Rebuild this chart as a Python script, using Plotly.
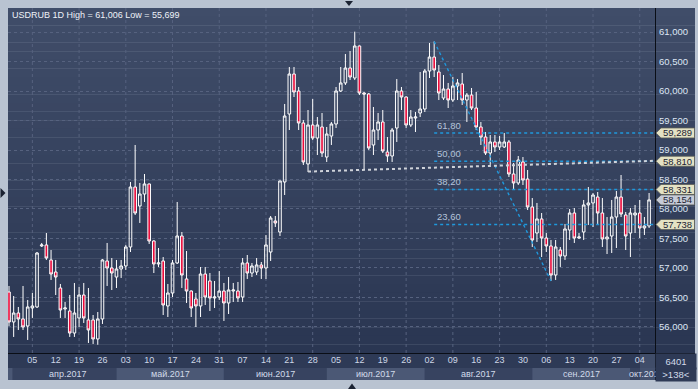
import plotly.graph_objects as go
import pandas as pd

# ---------------- data ----------------
dates = pd.bdate_range("2017-03-29", "2017-10-06")  # 138 daily bars

opens = [56.593, 56.085, 56.237, 56.136, 56.017, 56.322, 56.339, 57.373, 57.390, 57.136,
         56.932, 56.661, 56.305, 56.271, 55.898, 56.153, 56.542, 56.119, 56.119, 55.797,
         56.136, 57.119, 57.000, 56.847, 56.983, 57.034, 57.356, 58.373, 58.051, 58.254,
         58.424, 57.458, 57.068, 57.119, 56.356, 56.576, 57.085, 57.542, 56.814, 56.610,
         56.475, 56.356, 56.898, 56.780, 56.492, 56.508, 56.610, 56.407, 56.610, 56.610,
         56.508, 57.085, 56.915, 56.932, 57.051, 57.000, 57.271, 57.797, 57.610, 58.458,
         59.610, 60.288, 60.000, 59.458, 58.763, 59.424, 59.203, 59.390, 58.881, 59.237,
         59.441, 60.000, 60.136, 60.390, 60.220, 60.763, 59.966, 59.949, 59.085, 59.339,
         59.475, 58.966, 58.898, 59.373, 60.000, 59.898, 59.424, 59.542, 59.627, 59.695,
         60.339, 60.576, 60.322, 59.881, 60.034, 59.847, 60.085, 60.119, 59.847, 59.932,
         59.712, 59.390, 59.220, 58.949, 59.136, 59.051, 59.051, 59.136, 58.593, 58.441,
         58.797, 58.508, 58.034, 57.593, 57.831, 57.508, 57.373, 56.881, 57.305, 57.203,
         57.644, 57.932, 57.508, 57.610, 58.068, 58.102, 58.203, 57.932, 57.492, 57.542,
         57.864, 58.203, 57.898, 57.593, 57.898, 57.932, 57.678, 57.712]

highs = [56.695, 56.525, 56.339, 56.695, 56.458, 56.576, 57.271, 57.424, 57.593, 57.305,
         57.136, 56.729, 56.424, 56.542, 56.746, 56.678, 56.746, 56.661, 56.203, 56.254,
         57.153, 57.424, 57.169, 57.136, 57.136, 57.390, 58.458, 59.085, 58.441, 58.593,
         58.430, 57.470, 57.339, 57.186, 56.729, 57.136, 58.119, 57.610, 57.288, 56.620,
         56.576, 57.017, 57.017, 56.915, 56.780, 56.949, 56.746, 56.847, 56.746, 56.763,
         57.169, 57.220, 57.085, 57.169, 57.102, 57.559, 57.881, 57.881, 58.480, 59.780,
         60.407, 60.407, 60.068, 59.508, 59.678, 59.864, 59.559, 59.627, 59.390, 59.475,
         60.068, 60.407, 60.627, 60.678, 61.006, 60.770, 59.983, 59.966, 59.729, 59.627,
         59.678, 59.220, 59.373, 60.203, 60.068, 59.910, 59.678, 59.644, 60.322, 60.373,
         60.814, 60.840, 60.441, 60.271, 60.136, 60.237, 60.203, 60.305, 59.966, 60.051,
         59.983, 59.475, 59.305, 59.254, 59.254, 59.237, 59.288, 59.169, 58.780, 58.898,
         58.881, 58.661, 58.186, 58.102, 57.932, 57.593, 57.475, 57.475, 57.356, 57.746,
         58.000, 58.017, 57.593, 58.153, 58.373, 58.271, 58.288, 58.186, 57.864, 58.153,
         58.305, 58.576, 57.949, 58.017, 58.068, 58.153, 57.864, 58.271]

lows = [56.017, 55.831, 55.949, 55.949, 55.780, 56.153, 56.322, 57.356, 57.136, 56.797,
        56.542, 56.153, 56.153, 55.831, 55.831, 56.000, 56.068, 55.729, 55.712, 55.699,
        56.051, 56.695, 56.627, 56.661, 56.831, 56.966, 57.271, 57.898, 57.763, 58.119,
        57.407, 56.915, 57.017, 56.203, 56.169, 56.508, 57.068, 56.661, 56.407, 56.169,
        56.000, 56.169, 56.373, 56.271, 56.322, 56.458, 56.102, 56.220, 56.424, 56.424,
        56.424, 56.814, 56.847, 56.881, 56.814, 56.814, 57.119, 57.695, 57.542, 58.237,
        59.339, 59.898, 59.339, 58.746, 58.627, 59.169, 58.915, 58.881, 58.797, 59.085,
        59.373, 59.983, 60.102, 60.186, 60.186, 59.932, 58.661, 59.000, 58.915, 59.169,
        58.949, 58.797, 58.797, 59.136, 59.678, 59.373, 59.390, 59.305, 59.559, 59.644,
        60.220, 60.237, 59.847, 59.847, 59.712, 59.814, 59.847, 59.763, 59.475, 59.678,
        59.339, 59.085, 58.915, 58.746, 58.966, 59.000, 59.034, 58.542, 58.322, 58.407,
        58.407, 57.983, 57.356, 57.441, 57.186, 57.271, 56.780, 56.797, 57.017, 57.136,
        57.475, 57.424, 57.492, 57.475, 57.729, 57.695, 57.729, 57.356, 57.237, 57.254,
        57.339, 57.864, 57.305, 57.186, 57.593, 57.508, 57.559, 57.678]

closes = [56.085, 56.237, 56.136, 56.000, 56.339, 56.356, 57.254, 57.390, 57.169, 56.898,
          56.847, 56.288, 56.322, 55.898, 56.237, 56.542, 56.153, 55.949, 55.797, 56.136,
          57.136, 57.000, 56.915, 56.983, 57.034, 57.356, 58.373, 57.932, 58.254, 58.424,
          57.458, 57.068, 57.085, 56.373, 56.576, 57.085, 57.542, 56.881, 56.610, 56.322,
          56.356, 56.898, 56.508, 56.492, 56.508, 56.610, 56.407, 56.627, 56.627, 56.492,
          57.085, 56.915, 57.034, 57.051, 57.000, 57.390, 57.847, 57.763, 58.475, 59.576,
          60.288, 59.983, 59.458, 58.797, 59.424, 59.203, 59.424, 58.949, 59.271, 59.441,
          60.000, 60.136, 60.390, 60.237, 60.763, 59.966, 59.949, 59.034, 59.339, 59.475,
          58.983, 58.898, 59.339, 60.000, 59.898, 59.424, 59.559, 59.559, 59.695, 60.339,
          60.576, 60.356, 59.966, 60.034, 59.847, 60.085, 60.136, 59.847, 59.932, 59.712,
          59.390, 59.220, 58.949, 59.136, 59.051, 59.136, 59.136, 58.593, 58.441, 58.831,
          58.492, 58.034, 57.475, 57.831, 57.508, 57.373, 56.881, 57.356, 57.203, 57.661,
          57.932, 57.508, 57.525, 58.068, 58.102, 58.237, 57.932, 57.492, 57.525, 57.864,
          58.203, 57.915, 57.542, 57.932, 57.932, 57.678, 57.712, 58.154]

# Fibonacci retracement drawn on the Aug high -> Sep low swing
swing_high_idx, swing_high = 91, 60.840
swing_low_idx, swing_low = 116, 56.7798
fib_ratios = [61.8, 50.0, 38.2, 23.6]

# white dotted trend line
trend_idx = [64, 138.6]
trend_val = [58.634, 58.818]

y_ticks = [56.0, 56.5, 57.0, 57.5, 58.0, 58.5, 59.0, 59.5, 60.0, 60.5, 61.0]
month_names = {3: "мар", 4: "апр", 5: "май", 6: "июн", 7: "июл", 8: "авг", 9: "сен", 10: "окт"}
bar_count_text = "6401"

idx = list(range(len(dates)))

# ---------------- geometry helpers (decoration only) ----------------
W, H = 698, 389
PL, PT, PR, PB = 8, 8, 656, 353
PW, PH = PR - PL, PB - PT
X_RANGE = [-0.214, 138.48]
Y_RANGE = [55.559, 61.407]


def pxx(x):
    return (x - PL) / PW


def pxy(y):
    return (PB - y) / PH


FONT = "Liberation Sans, Arial, sans-serif"
shapes = []
annotations = []

# gradient background (plot area + right price panel)
top_c = (64, 77, 105)
bot_c = (42, 54, 82)
N = 40
for k in range(N):
    t = (k + 0.5) / N
    c = tuple(int(round(top_c[j] + (bot_c[j] - top_c[j]) * t)) for j in range(3))
    shapes.append(dict(type="rect", xref="paper", yref="paper",
                       x0=pxx(PL), x1=pxx(695), y0=1 - k / N, y1=1 - (k + 1) / N - 0.001,
                       fillcolor="rgb(%d,%d,%d)" % c, line=dict(width=0), layer="below"))

# axis row background
shapes.append(dict(type="rect", xref="paper", yref="paper", x0=pxx(PL), x1=pxx(695),
                   y0=pxy(380), y1=pxy(PB), fillcolor="#2e3a56", line=dict(width=0), layer="below"))

# month bands
month_starts = []
prev = None
for i, d in enumerate(dates):
    if d.month != prev:
        month_starts.append((i, d))
        prev = d.month
band_edges = [X_RANGE[0]] + [0.8 if k == 1 else s[0] for k, s in enumerate(month_starts) if k > 0] + [X_RANGE[1]]
for k, (i0, d) in enumerate(month_starts):
    x0 = band_edges[k]
    x1 = band_edges[k + 1]
    light = (d.month % 2 == 1)
    shapes.append(dict(type="rect", xref="x", yref="paper", x0=x0, x1=x1,
                       y0=pxy(380), y1=pxy(368),
                       fillcolor="#4b5875" if light else "#374360", line=dict(width=0), layer="below"))
    if d.month == 10:
        annotations.append(dict(x=x0 - 0.7, y=pxy(374), xref="x", yref="paper",
                                text="%s.%d" % (month_names[d.month], d.year), showarrow=False,
                                font=dict(family=FONT, size=9, color="#d2dbea"),
                                xanchor="left", yanchor="middle"))
    elif d.month != 3:
        annotations.append(dict(x=(x0 + x1) / 2 + (0.6 if d.month == 4 else 0), y=pxy(374), xref="x", yref="paper",
                                text="%s.%d" % (month_names[d.month], d.year), showarrow=False,
                                font=dict(family=FONT, size=9, color="#d2dbea"),
                                xanchor="center", yanchor="middle"))

# cursor highlight box at last week label
shapes.append(dict(type="rect", xref="paper", yref="paper", x0=pxx(640), x1=pxx(655),
                   y0=pxy(380), y1=pxy(354), fillcolor="rgba(80,92,122,0.55)",
                   line=dict(width=0), layer="below"))

# vertical grid lines (every second week label)
wed_idx = [i for i, d in enumerate(dates) if d.weekday() == 2 and i > 0]
for gi in wed_idx[::2]:
    shapes.append(dict(type="line", xref="x", yref="paper", x0=gi, x1=gi, y0=0, y1=1,
                       line=dict(color="#56627f", width=1, dash="3px,3px"), layer="below"))

# separators
shapes.append(dict(type="line", xref="paper", yref="paper", x0=pxx(PL), x1=pxx(695),
                   y0=pxy(353.5), y1=pxy(353.5), line=dict(color="#0a0e16", width=1), layer="above"))
shapes.append(dict(type="line", xref="paper", yref="paper", x0=pxx(655.5), x1=pxx(655.5),
                   y0=pxy(PT), y1=pxy(380), line=dict(color="#0a0e16", width=1), layer="above"))
shapes.append(dict(type="line", xref="paper", yref="paper", x0=pxx(662), x1=pxx(689),
                   y0=pxy(368), y1=pxy(368), line=dict(color="#707c96", width=1), layer="above"))

# frame triangles
tri = "#1b2232"
for pts in ([(345, 1), (353, 1), (349, 6)], [(348, 389), (356, 389), (352, 383.5)],
            [(0.5, 188), (0.5, 198), (5.5, 193)]):
    path = "M %f,%f L %f,%f L %f,%f Z" % (pxx(pts[0][0]), pxy(pts[0][1]), pxx(pts[1][0]), pxy(pts[1][1]),
                                          pxx(pts[2][0]), pxy(pts[2][1]))
    shapes.append(dict(type="path", xref="paper", yref="paper", path=path,
                       fillcolor=tri, line=dict(width=0), layer="above"))

# ---------------- traces ----------------
fig = go.Figure()
fig.add_trace(go.Candlestick(
    x=idx, open=opens, high=highs, low=lows, close=closes,
    increasing=dict(line=dict(color="#ffffff", width=1), fillcolor="rgba(0,0,0,0)"),
    decreasing=dict(line=dict(color="#ffffff", width=1), fillcolor="#ea0a3a"),
    whiskerwidth=0, hoverinfo="skip", showlegend=False))

fib_levels = [swing_low + r / 100.0 * (swing_high - swing_low) for r in fib_ratios]
fib_col = "#1f98dc"
for r, lv in zip(fib_ratios, fib_levels):
    fig.add_trace(go.Scatter(x=[swing_high_idx, 140], y=[lv, lv], mode="lines",
                             line=dict(color=fib_col, width=1.6, dash="dot"),
                             hoverinfo="skip", showlegend=False))
    annotations.append(dict(x=swing_high_idx, y=lv, xref="x", yref="y", text=("%.2f" % r).replace(".", ","),
                            showarrow=False, xanchor="left", yanchor="bottom", xshift=1, yshift=0,
                            font=dict(family=FONT, size=9.5, color="#b4c3da")))
fig.add_trace(go.Scatter(x=[swing_high_idx, swing_low_idx], y=[swing_high, swing_low], mode="lines",
                         line=dict(color=fib_col, width=1.4, dash="dot"),
                         hoverinfo="skip", showlegend=False))
fig.add_trace(go.Scatter(x=trend_idx, y=trend_val, mode="lines",
                         line=dict(color="#cfd3da", width=2, dash="dot"),
                         hoverinfo="skip", showlegend=False))

# right-side price tags
half = 5.0 / 59.0
tags = [(lv, "#e4e2c4") for lv in fib_levels] + [(closes[-1], "#c6cbd8")]
for lv, col in tags:
    path = "M %f,%f L %f,%f L %f,%f L %f,%f L %f,%f Z" % (
        pxx(656), lv, pxx(661), lv + half, pxx(694.5), lv + half, pxx(694.5), lv - half, pxx(661), lv - half)
    shapes.append(dict(type="path", xref="paper", yref="y", path=path, fillcolor=col,
                       line=dict(color="#5c5e58", width=0.8), layer="above"))
    annotations.append(dict(x=pxx(677.5), y=lv, xref="paper", yref="y", text=("%.3f" % lv).replace(".", ","),
                            showarrow=False, xanchor="center", yanchor="middle",
                            font=dict(family=FONT, size=9.5, color="#1c2232")))

# title
annotations.append(dict(x=pxx(10), y=pxy(15), xref="paper", yref="paper",
                        text="USDRUB 1D High = %s Low = %s" % (("%.3f" % max(highs)).replace(".", ","),
                                                            ("%.3f" % min(lows)).replace(".", ",")),
                        showarrow=False, xanchor="left", yanchor="middle",
                        font=dict(family=FONT, size=9, color="#eef2f8")))

# bottom-right counters (with background hiding overflow of month label)
annotations.append(dict(x=pxx(675.5), y=pxy(361), xref="paper", yref="paper", text=bar_count_text,
                        showarrow=False, xanchor="center", yanchor="middle", width=38, height=13,
                        bgcolor="#2e3a56", font=dict(family=FONT, size=9.5, color="#d2dbea")))
annotations.append(dict(x=pxx(675.5), y=pxy(374), xref="paper", yref="paper", text=">%d<" % len(dates),
                        showarrow=False, xanchor="center", yanchor="middle", width=38, height=11,
                        bgcolor="#2e3a56", font=dict(family=FONT, size=9.5, color="#d2dbea")))

wed_all = [i for i, d in enumerate(dates) if d.weekday() == 2 and i > 0]
fig.update_layout(
    width=W, height=H,
    margin=dict(l=PL, r=W - PR, t=PT, b=H - PB, pad=0),
    paper_bgcolor="#b9c3d1", plot_bgcolor="rgba(0,0,0,0)",
    separators=", ",
    showlegend=False, boxgap=0.2,
    shapes=shapes, annotations=annotations,
    xaxis=dict(range=X_RANGE, rangeslider=dict(visible=False), showgrid=False, zeroline=False,
               tickmode="array", tickvals=wed_all, ticktext=[dates[i].strftime("%d") for i in wed_all],
               ticks="", tickfont=dict(family=FONT, size=9, color="#cdd7e6"), showline=False, fixedrange=True),
    yaxis=dict(range=Y_RANGE, side="right", tickmode="array", tickvals=y_ticks, tickformat=".3f",
               showgrid=True, gridcolor="#56627f", griddash="3px,3px", gridwidth=1, zeroline=False,
               ticks="", ticklabelstandoff=2, tickfont=dict(family=FONT, size=9.5, color="#dde6f4"),
               showline=False, fixedrange=True),
)

fig.write_html("out.html", config={"displayModeBar": False},
               post_script="document.body.style.margin='0';document.body.style.overflow='hidden';")
